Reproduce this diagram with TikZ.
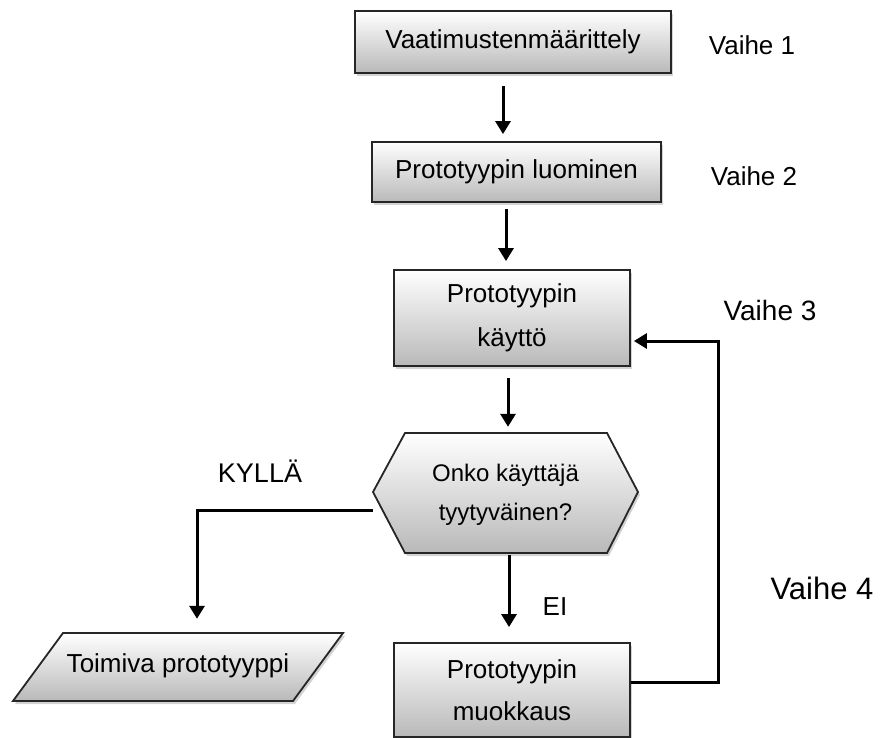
\documentclass[tikz,border=0pt]{standalone}
\usepackage{fontspec}
\setmainfont{Liberation Sans}
\usetikzlibrary{arrows.meta,shadows,calc}
\begin{document}
\begin{tikzpicture}[x=1pt,y=-1pt,
  bevel/.style={draw=black!85, line width=1.8pt, top color=white, middle color=gray!18, bottom color=gray!55,
    drop shadow={shadow xshift=2pt,shadow yshift=-3pt,opacity=0.35}},
  boxnode/.style={bevel, rectangle, inner sep=0pt, align=center},
  txtnode/.style={inner sep=0pt, align=center},
  arr/.style={line width=3pt, -{Triangle[length=13pt,width=15pt]}},
  lbl/.style={font=\fontsize{26}{30}\selectfont}]
\useasboundingbox (0,0) rectangle (880,738);
% boxes
\node[boxnode, minimum width=316pt, minimum height=62pt, font=\fontsize{26}{30}\selectfont] (b1) at (513,42) {Vaatimustenmäärittely};
\node[boxnode, minimum width=289pt, minimum height=60pt, font=\fontsize{26}{30}\selectfont] (b2) at (516.5,172) {Prototyypin luominen};
\node[boxnode, minimum width=236pt, minimum height=96pt, font=\fontsize{26}{44}\selectfont] (b3) at (512,318) {Prototyypin\\käyttö};
% hexagon
\path[bevel] (373,492) -- (405,433) -- (607,433) -- (638,492) -- (607,553) -- (405,553) -- cycle;
\node[txtnode, minimum width=265pt, minimum height=120pt, font=\fontsize{24}{39}\selectfont] (hex) at (505.5,495) {Onko käyttäjä\\tyytyväinen?};
% parallelogram
\path[bevel] (63,633) -- (343,633) -- (293,701) -- (13,701) -- cycle;
\node[txtnode, minimum width=280pt, minimum height=68pt, font=\fontsize{26}{30}\selectfont] (out) at (178,666) {Toimiva prototyyppi};
% bottom box
\node[boxnode, minimum width=236pt, minimum height=94pt, font=\fontsize{26}{42}\selectfont] (b4) at (512,690) {Prototyypin\\muokkaus};
% arrows
\draw[arr, shorten <=12pt, shorten >=7pt] ([xshift=-10pt]b1.south) -- ([xshift=-10pt]b1.south |- b2.north);
\draw[arr, shorten <=6pt, shorten >=8pt] ([xshift=-10.5pt]b2.south) -- ([xshift=-10.5pt]b2.south |- b3.north);
\draw[arr, shorten <=11pt, shorten >=8pt] ([xshift=-4pt]b3.south) -- ([xshift=-4pt]b3.south |- hex.north);
\draw[arr, shorten >=15pt] ([xshift=3.5pt]hex.south) -- ([xshift=3.5pt]hex.south |- b4.north);
\draw[arr, shorten >=13pt] ([yshift=-15pt]hex.west) -| ([xshift=19pt]out.north);
\draw[arr, shorten >=3pt] ([yshift=8pt]b4.east) -- ++(88,0) |- ([yshift=-23pt]b3.east);
% labels
\node[lbl] (v1) at (752,45) {Vaihe 1};
\node[lbl] (v2) at (754,176) {Vaihe 2};
\node[font=\fontsize{28}{30}\selectfont] (v3) at (770,310) {Vaihe 3};
\node[font=\fontsize{31}{34}\selectfont] (v4) at (822,588) {Vaihe 4};
\node[font=\fontsize{27}{30}\selectfont] (ky) at (260,471) {KYLLÄ};
\node[lbl] (ei) at (555,607) {EI};
\end{tikzpicture}
\end{document}
